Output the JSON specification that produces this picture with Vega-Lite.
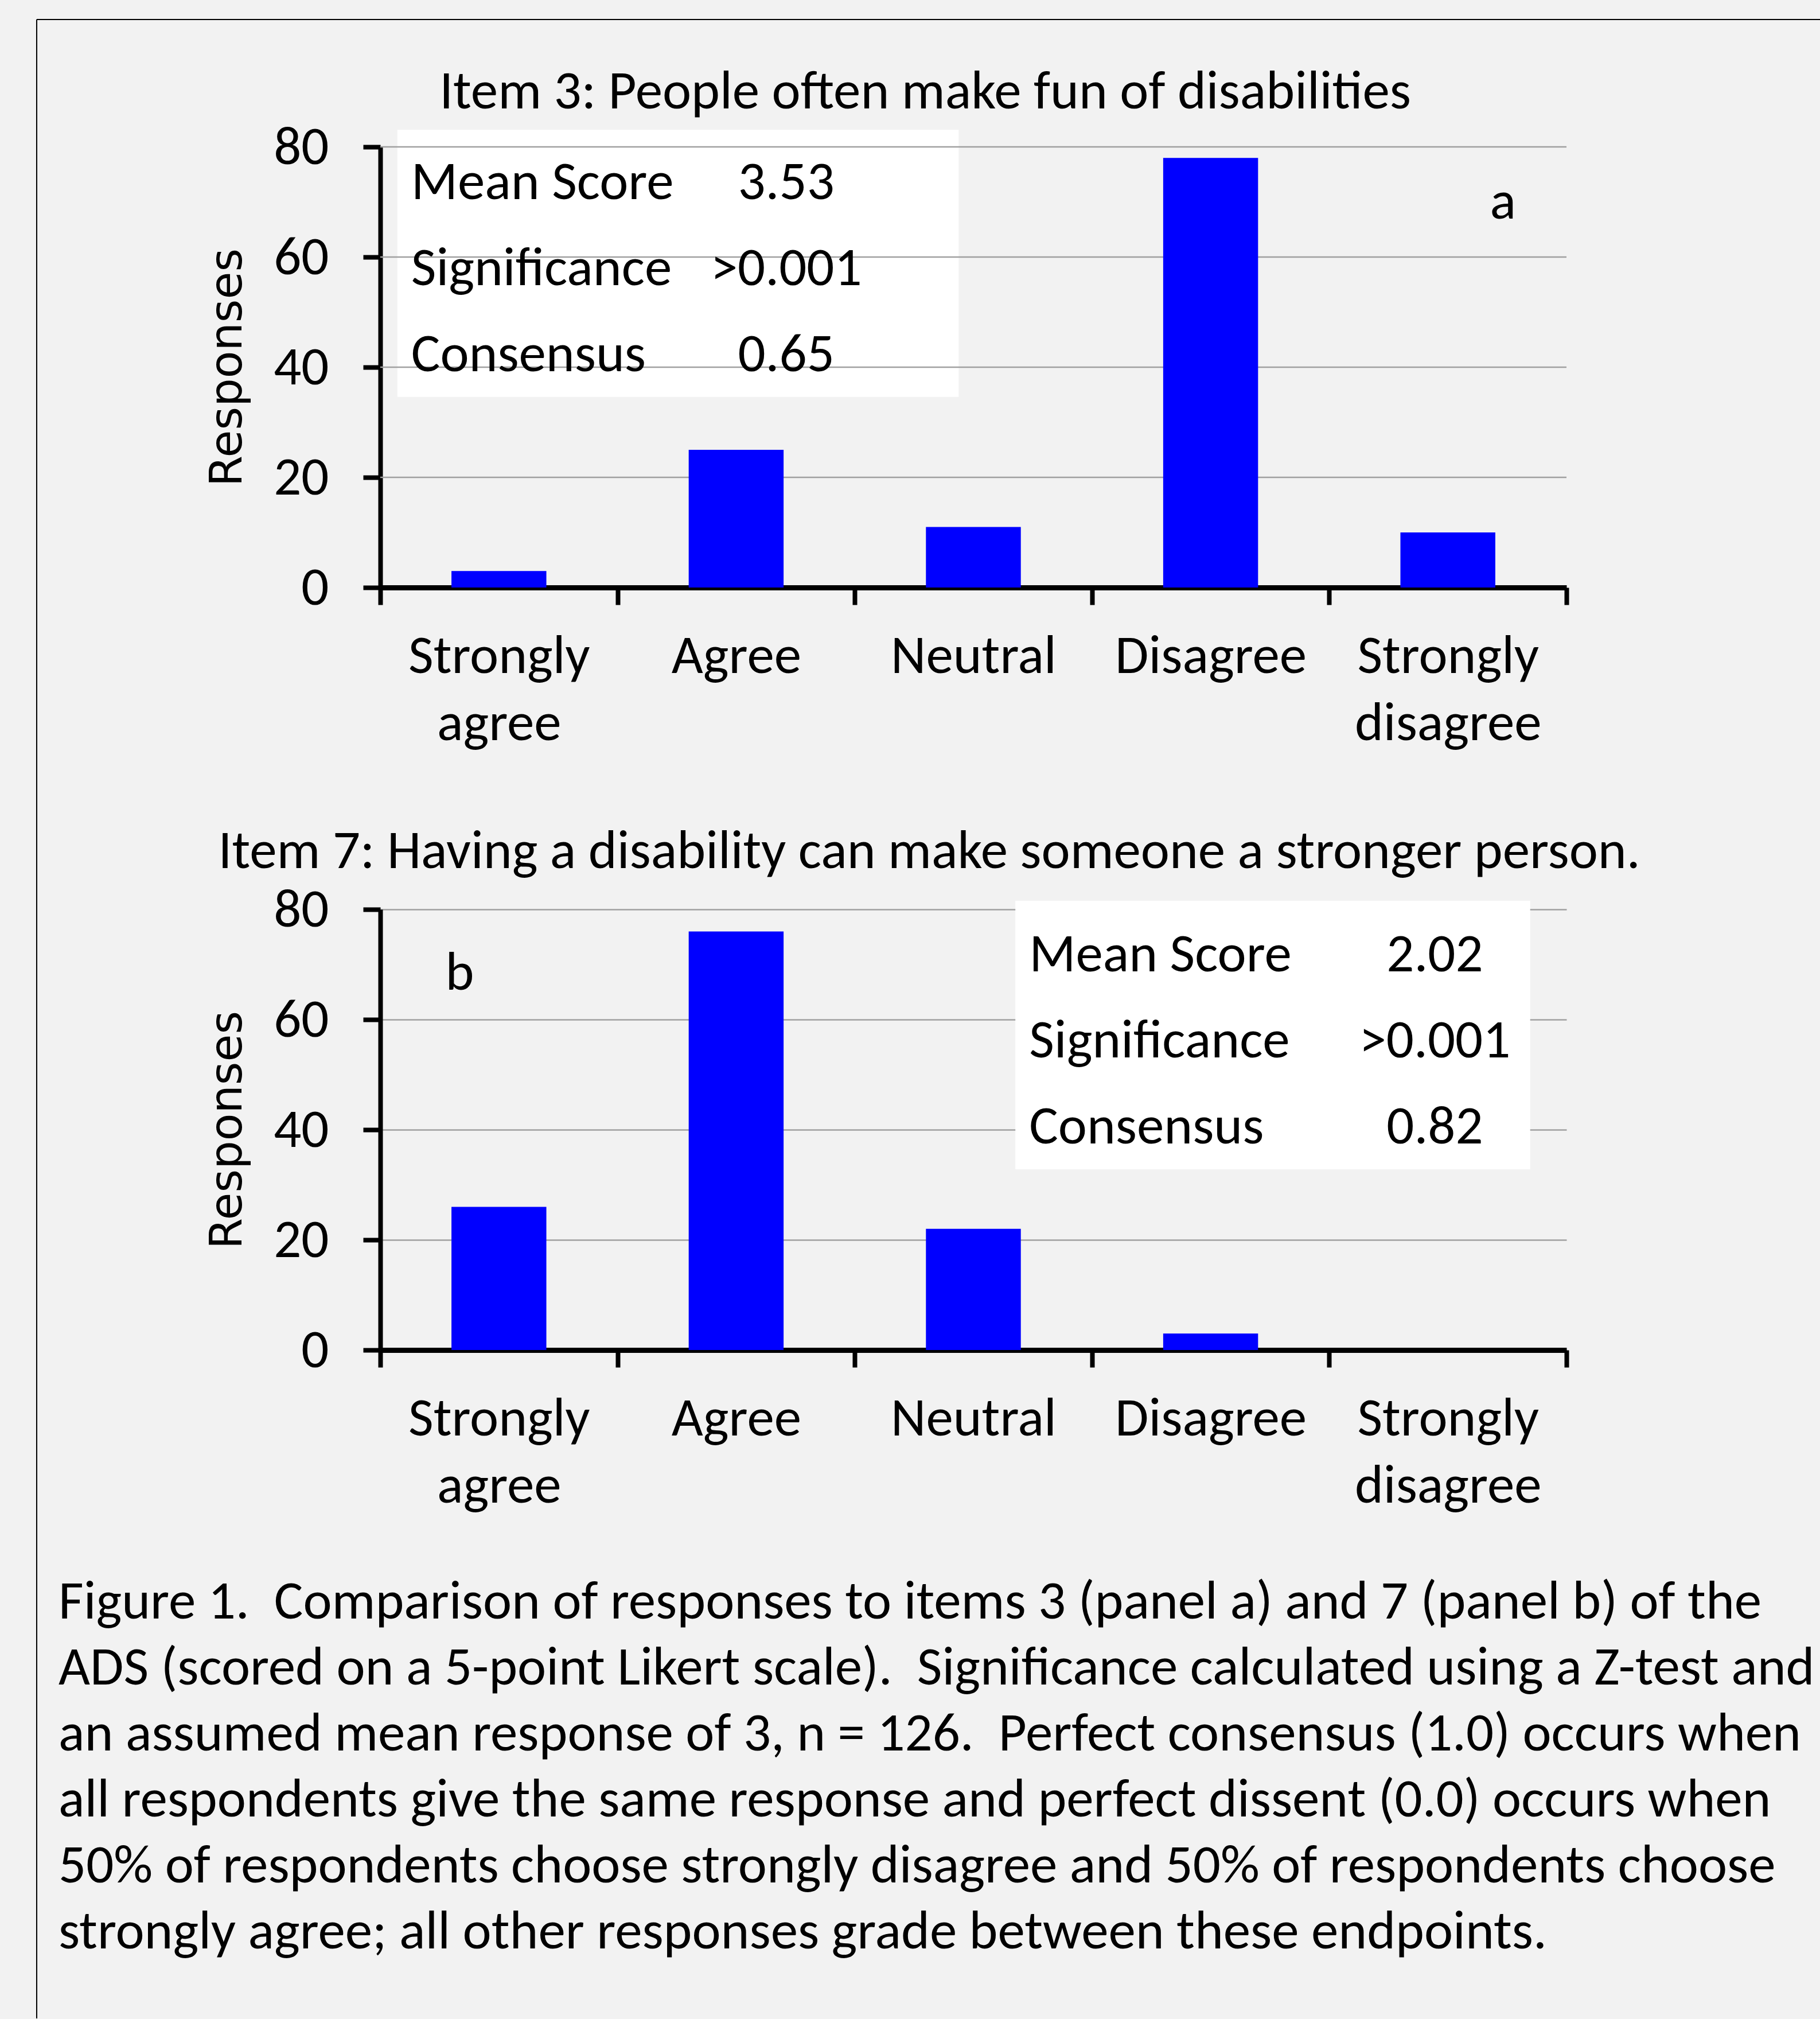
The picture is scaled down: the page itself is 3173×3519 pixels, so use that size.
{
  "$schema": "https://vega.github.io/schema/vega-lite/v6.json",
  "background": "#f2f2f2",
  "padding": {"left": 62, "top": 33, "right": 0, "bottom": 0},
  "config": {
    "font": "Carlito, Calibri, Lato, sans-serif",
    "view": {"stroke": null},
    "axis": {"labelColor": "black", "titleColor": "black", "domainColor": "black", "tickColor": "black"}
  },
  "bounds": "flush",
  "spacing": 561,
  "vconcat": [
    {
      "width": 2068,
      "height": 768,
      "data": {"values": [
        {"response": "Strongly agree", "count": 3},
        {"response": "Agree", "count": 25},
        {"response": "Neutral", "count": 11},
        {"response": "Disagree", "count": 78},
        {"response": "Strongly disagree", "count": 10}
      ]},
      "layer": [
        {
          "data": {"values": [{"frame": "figure"}]},
          "mark": {"type": "rule", "color": "black", "strokeWidth": 2},
          "encoding": {
            "x": {"datum": -1.4483, "type": "quantitative", "scale": {"domain": [0, 5]}, "axis": null},
            "x2": {"datum": 6.0687},
            "y": {"datum": 103.125, "type": "quantitative"}
          }
        },
        {
          "data": {"values": [{"frame": "figure"}]},
          "mark": {"type": "rule", "color": "black", "strokeWidth": 2},
          "encoding": {
            "x": {"datum": -1.4483, "type": "quantitative", "scale": {"domain": [0, 5]}, "axis": null},
            "y": {"datum": 103.125, "type": "quantitative"},
            "y2": {"datum": -259.79}
          }
        },
        {
          "data": {"values": [{"title": "Item 3: People often make fun of disabilities"}]},
          "mark": {"type": "text", "align": "center", "baseline": "alphabetic", "fontSize": 95, "color": "black"},
          "encoding": {
            "x": {"datum": 2.297, "type": "quantitative", "scale": {"domain": [0, 5]}, "axis": null},
            "y": {"datum": 86.98, "type": "quantitative"},
            "text": {"field": "title", "type": "nominal"}
          }
        },
        {
          "data": {"values": [{"box": "stats"}]},
          "mark": {"type": "rect", "color": "white"},
          "encoding": {
            "x": {"datum": 0.072, "type": "quantitative", "scale": {"domain": [0, 5]}, "axis": null},
            "x2": {"datum": 2.438},
            "y": {"datum": 83.1, "type": "quantitative"},
            "y2": {"datum": 34.6}
          }
        },
        {
          "data": {"values": [{"tick": 20}, {"tick": 40}, {"tick": 60}, {"tick": 80}]},
          "mark": {"type": "rule", "color": "#a0a0a0", "strokeWidth": 2.5},
          "encoding": {"y": {"field": "tick", "type": "quantitative"}}
        },
        {
          "mark": {"type": "bar", "color": "#0000ff", "width": {"band": 0.4}},
          "encoding": {
            "x": {"field": "response", "type": "nominal", "sort": null,
              "scale": {"paddingInner": 0, "paddingOuter": 0},
              "axis": {"title": null, "labelExpr": "split(datum.label, ' ')", "tickBand": "extent", "labelAngle": 0,
                "labelFontSize": 95, "labelLineHeight": 117, "labelPadding": 43, "labelLimit": 0, "labelOverlap": false,
                "tickSize": 30, "tickWidth": 8, "domainWidth": 9, "grid": false}},
            "y": {"field": "count", "type": "quantitative", "scale": {"domain": [0, 80], "nice": false},
              "axis": {"title": "Responses", "values": [0, 20, 40, 60, 80], "grid": false, "tickSize": 30, "tickWidth": 8,
                "domainWidth": 8, "labelFontSize": 95, "labelPadding": 60, "titleFont": "DejaVu Sans", "titleFontSize": 78,
                "titleFontWeight": "normal", "titlePadding": 40}}
          }
        },
        {
          "data": {"values": [{"names": ["Mean Score", "Significance", "Consensus"], "vals": ["3.53", ">0.001", "0.65"]}]},
          "mark": {"type": "text", "align": "left", "baseline": "top", "lineHeight": 150, "fontSize": 95, "color": "black"},
          "encoding": {
            "x": {"datum": 0.13, "type": "quantitative", "scale": {"domain": [0, 5]}, "axis": null},
            "y": {"datum": 78.33, "type": "quantitative"},
            "text": {"field": "names", "type": "nominal"}
          }
        },
        {
          "data": {"values": [{"names": ["Mean Score", "Significance", "Consensus"], "vals": ["3.53", ">0.001", "0.65"]}]},
          "mark": {"type": "text", "align": "center", "baseline": "top", "lineHeight": 150, "fontSize": 95, "color": "black"},
          "encoding": {
            "x": {"datum": 1.711, "type": "quantitative", "scale": {"domain": [0, 5]}, "axis": null},
            "y": {"datum": 78.33, "type": "quantitative"},
            "text": {"field": "vals", "type": "nominal"}
          }
        },
        {
          "data": {"values": [{"panel": "a"}]},
          "mark": {"type": "text", "align": "center", "baseline": "alphabetic", "fontSize": 95, "color": "black"},
          "encoding": {
            "x": {"datum": 4.732, "type": "quantitative", "scale": {"domain": [0, 5]}, "axis": null},
            "y": {"datum": 66.98, "type": "quantitative"},
            "text": {"field": "panel", "type": "nominal"}
          }
        }
      ],
      "resolve": {"scale": {"x": "independent"}}
    },
    {
      "width": 2068,
      "height": 768,
      "data": {"values": [
        {"response": "Strongly agree", "count": 26},
        {"response": "Agree", "count": 76},
        {"response": "Neutral", "count": 22},
        {"response": "Disagree", "count": 3},
        {"response": "Strongly disagree", "count": 0}
      ]},
      "layer": [
        {
          "mark": {"type": "bar", "color": "#0000ff", "width": {"band": 0.4}},
          "encoding": {
            "x": {"field": "response", "type": "nominal", "sort": null,
              "scale": {"paddingInner": 0, "paddingOuter": 0},
              "axis": {"title": null, "labelExpr": "split(datum.label, ' ')", "tickBand": "extent", "labelAngle": 0,
                "labelFontSize": 95, "labelLineHeight": 117, "labelPadding": 43, "labelLimit": 0, "labelOverlap": false,
                "tickSize": 30, "tickWidth": 8, "domainWidth": 9, "grid": false}},
            "y": {"field": "count", "type": "quantitative", "scale": {"domain": [0, 80], "nice": false},
              "axis": {"title": "Responses", "values": [0, 20, 40, 60, 80], "grid": true, "gridColor": "#a0a0a0", "gridWidth": 2.5,
                "tickSize": 30, "tickWidth": 8,
                "domainWidth": 8, "labelFontSize": 95, "labelPadding": 60, "titleFont": "DejaVu Sans", "titleFontSize": 78,
                "titleFontWeight": "normal", "titlePadding": 40}}
          }
        },
        {
          "data": {"values": [{"title": "Item 7: Having a disability can make someone a stronger person."}]},
          "mark": {"type": "text", "align": "center", "baseline": "alphabetic", "fontSize": 95, "color": "black"},
          "encoding": {
            "x": {"datum": 2.314, "type": "quantitative", "scale": {"domain": [0, 5]}, "axis": null},
            "y": {"datum": 87.5, "type": "quantitative"},
            "text": {"field": "title", "type": "nominal"}
          }
        },
        {
          "data": {"values": [{"box": "stats"}]},
          "mark": {"type": "rect", "color": "white"},
          "encoding": {
            "x": {"datum": 2.677, "type": "quantitative", "scale": {"domain": [0, 5]}, "axis": null},
            "x2": {"datum": 4.847},
            "y": {"datum": 81.56, "type": "quantitative"},
            "y2": {"datum": 32.8}
          }
        },
        {
          "data": {"values": [{"names": ["Mean Score", "Significance", "Consensus"], "vals": ["2.02", ">0.001", "0.82"]}]},
          "mark": {"type": "text", "align": "left", "baseline": "top", "lineHeight": 150, "fontSize": 95, "color": "black"},
          "encoding": {
            "x": {"datum": 2.735, "type": "quantitative", "scale": {"domain": [0, 5]}, "axis": null},
            "y": {"datum": 76.56, "type": "quantitative"},
            "text": {"field": "names", "type": "nominal"}
          }
        },
        {
          "data": {"values": [{"names": ["Mean Score", "Significance", "Consensus"], "vals": ["2.02", ">0.001", "0.82"]}]},
          "mark": {"type": "text", "align": "center", "baseline": "top", "lineHeight": 150, "fontSize": 95, "color": "black"},
          "encoding": {
            "x": {"datum": 4.445, "type": "quantitative", "scale": {"domain": [0, 5]}, "axis": null},
            "y": {"datum": 76.56, "type": "quantitative"},
            "text": {"field": "vals", "type": "nominal"}
          }
        },
        {
          "data": {"values": [{"panel": "b"}]},
          "mark": {"type": "text", "align": "center", "baseline": "alphabetic", "fontSize": 95, "color": "black"},
          "encoding": {
            "x": {"datum": 0.335, "type": "quantitative", "scale": {"domain": [0, 5]}, "axis": null},
            "y": {"datum": 65.4, "type": "quantitative"},
            "text": {"field": "panel", "type": "nominal"}
          }
        },
        {
          "data": {"values": [{"caption": [
            "Figure 1.\u00a0 Comparison of responses to items 3 (panel a) and 7 (panel b) of the",
            "ADS (scored on a 5-point Likert scale).\u00a0 Significance calculated using a Z-test and",
            "an assumed mean response of 3, n = 126.\u00a0 Perfect consensus (1.0) occurs when",
            "all respondents give the same response and perfect dissent (0.0) occurs when",
            "50% of respondents choose strongly disagree and 50% of respondents choose",
            "strongly agree; all other responses grade between these endpoints."
          ]}]},
          "mark": {"type": "text", "align": "left", "baseline": "top", "lineHeight": 115, "fontSize": 95, "color": "black"},
          "encoding": {
            "x": {"datum": -1.3564, "type": "quantitative", "scale": {"domain": [0, 5]}, "axis": null},
            "y": {"datum": -40.97, "type": "quantitative"},
            "text": {"field": "caption", "type": "nominal"}
          }
        }
      ],
      "resolve": {"scale": {"x": "independent"}}
    }
  ]
}
